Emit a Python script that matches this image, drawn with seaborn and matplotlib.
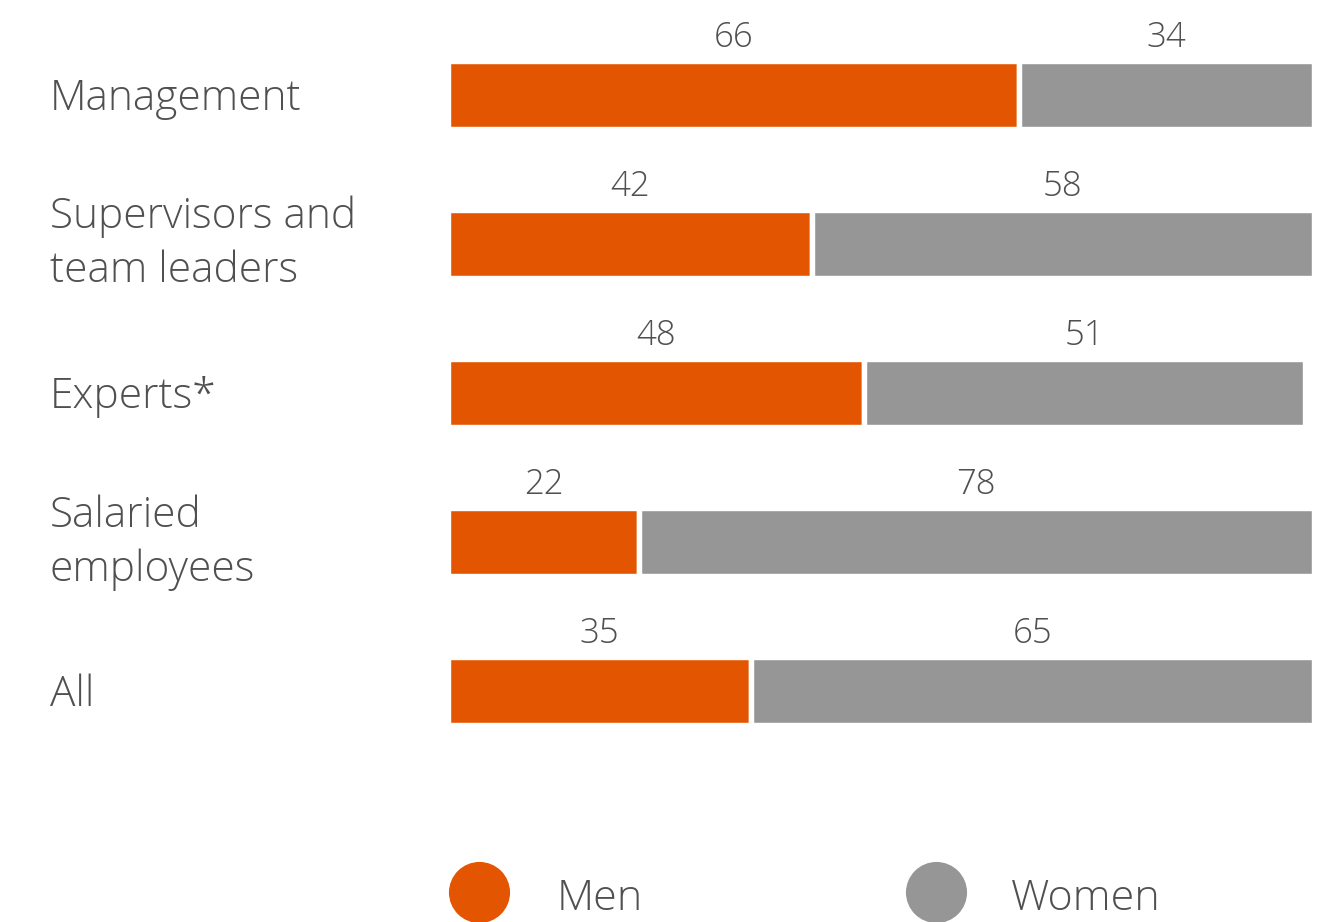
import numpy as np
import pandas as pd
import matplotlib
matplotlib.use("Agg")
import matplotlib.pyplot as plt
from matplotlib.lines import Line2D
from matplotlib.transforms import blended_transform_factory
import seaborn as sns

# Share of men and women per employee group (%)
categories = ["Management", "Supervisors and\nteam leaders", "Experts*",
              "Salaried\nemployees", "All"]
men = [66, 42, 48, 22, 35]
women = [34, 58, 51, 78, 65]
series_names = ["Men", "Women"]

ORANGE = "#E35500"
GREY = "#969696"
TEXT = "#505050"
FONT = "Open Sans"

sns.set_theme(style="white")
plt.rcParams["font.family"] = [FONT, "DejaVu Sans"]

df = pd.DataFrame({"category": categories, "men": men, "women": women})

W, H = 1333, 922
fig = plt.figure(figsize=(W / 100, H / 100), dpi=100)
ax = fig.add_axes([448.3 / W, 1 - 766 / H, 865.4 / W, 746 / H])

edge_lw = 3.9
bar_w = 0.456
sns.barplot(data=df, x="men", y="category", orient="h", color=ORANGE,
            width=bar_w, edgecolor="white", linewidth=edge_lw,
            saturation=1, ax=ax)
sns.barplot(data=df, x="women", y="category", orient="h", color=GREY,
            width=bar_w, edgecolor="white", linewidth=edge_lw,
            saturation=1, left=np.asarray(men, dtype=float), ax=ax)

ax.set_xlim(0, 100)
ax.set_ylim(4.5, -0.5)
ax.set_xlabel("")
ax.set_ylabel("")
ax.set_xticks([])
ax.set_yticks([])
sns.despine(ax=ax, left=True, bottom=True)

px = 1 / 149.0  # one pixel in category units

# value labels above each segment
for i, (m, w) in enumerate(zip(men, women)):
    y = i - 48 * px
    ax.text(m / 2, y, f"{m}", ha="center", va="baseline", fontsize=25,
            color=TEXT, fontweight="light")
    ax.text(m + w / 2, y, f"{w}", ha="center", va="baseline", fontsize=25,
            color=TEXT, fontweight="light")

# category labels, left aligned in the margin
trans = blended_transform_factory(fig.transFigure, ax.transData)
for i, label in enumerate(categories):
    lines = label.split("\n")
    base = 15 - (len(lines) - 1) * 30.5
    for k, line in enumerate(lines):
        ax.text(50 / W, i + (base + 54 * k) * px, line, transform=trans,
                ha="left", va="baseline", fontsize=30.5, color=TEXT,
                fontweight="light", clip_on=False)

# legend with round markers
for (cx, tx), name, col in zip([(479, 557), (936, 1011)], series_names,
                                [ORANGE, GREY]):
    fig.add_artist(Line2D([cx / W], [1 - 891.5 / H], marker="o",
                          markersize=44, color=col, markeredgewidth=0,
                          linestyle="none", transform=fig.transFigure))
    fig.text(tx / W, 1 - 910 / H, name, ha="left", va="baseline",
             fontsize=31, color=TEXT, fontweight="light")

fig.savefig("out.png", dpi=100, facecolor="white")
